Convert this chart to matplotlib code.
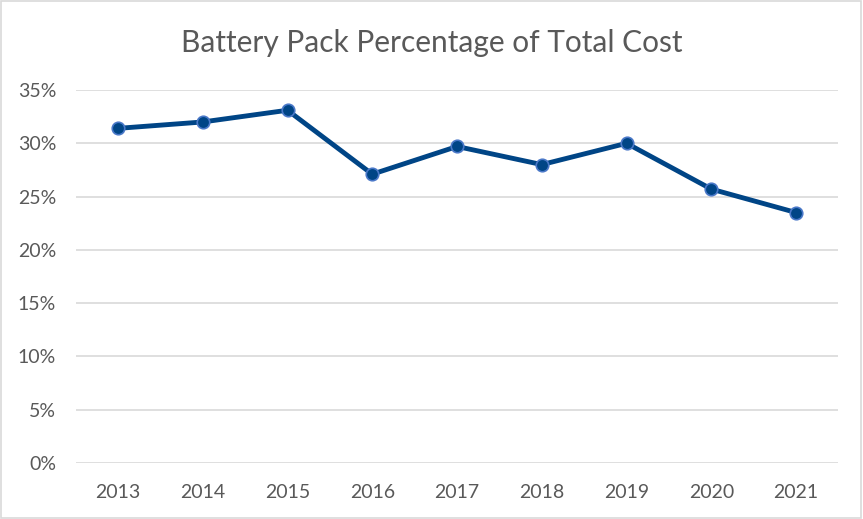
import matplotlib.pyplot as plt
from matplotlib.ticker import PercentFormatter
from matplotlib.patches import Rectangle

# --- Data ---
years = ['2013', '2014', '2015', '2016', '2017', '2018', '2019', '2020', '2021']
pack_share = [0.314, 0.320, 0.331, 0.271, 0.297, 0.280, 0.300, 0.257, 0.235]
y_ticks = [0, 0.05, 0.10, 0.15, 0.20, 0.25, 0.30, 0.35]

plt.rcParams['font.family'] = ['Lato', 'DejaVu Sans']

fig = plt.figure(figsize=(8.63, 5.19), dpi=100)
ax = fig.add_axes([0.0876, 0.1079, 0.884, 0.7187])

x = range(len(years))
ax.plot(x, pack_share, color='#004586', linewidth=3.5,
        marker='o', markersize=9, markerfacecolor='#004586',
        markeredgecolor='#4a78c8', markeredgewidth=1.2, zorder=3)

ax.set_xlim(-0.5, len(years) - 0.5)
ax.set_ylim(0, 0.35)
ax.set_yticks(y_ticks)
ax.yaxis.set_major_formatter(PercentFormatter(1.0, decimals=0))
ax.set_xticks(list(x))
ax.set_xticklabels(years)

ax.grid(axis='y', color='#d9d9d9', linewidth=1.2)
ax.set_axisbelow(True)
for s in ax.spines.values():
    s.set_visible(False)
ax.tick_params(length=0, labelsize=14, labelcolor='#595959')
ax.tick_params(axis='y', pad=14)
ax.tick_params(axis='x', pad=15)

fig.text(0.5, 0.918, 'Battery Pack Percentage of Total Cost', ha='center', va='center',
         fontsize=21.5, color='#595959')

# light border around the chart
fig.patches.append(Rectangle((0.001, 0.002), 0.997, 0.996, transform=fig.transFigure,
                             fill=False, edgecolor='#d9d9d9', linewidth=1.2))

fig.savefig('out.png', dpi=100)
